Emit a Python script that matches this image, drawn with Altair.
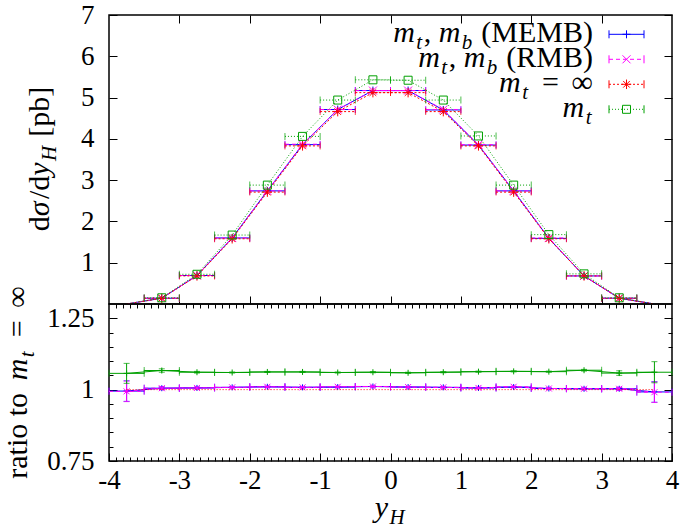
import altair as alt
import pandas as pd

# ---------------- data ----------------
y_H = [-3.75, -3.25, -2.75, -2.25, -1.75, -1.25, -0.75, -0.25,
       0.25, 0.75, 1.25, 1.75, 2.25, 2.75, 3.25, 3.75]
bin_width = 0.5

# upper panel: dsigma/dy_H [pb]
xsec_memb = [0.00, 0.14, 0.69, 1.60, 2.74, 3.86, 4.71, 5.17, 5.17, 4.70, 3.85, 2.74, 1.59, 0.68, 0.14, 0.00]
xsec_rmb  = [0.00, 0.14, 0.69, 1.60, 2.74, 3.87, 4.71, 5.17, 5.17, 4.71, 3.86, 2.74, 1.60, 0.68, 0.14, 0.00]
xsec_inf  = [0.00, 0.14, 0.68, 1.58, 2.71, 3.83, 4.66, 5.12, 5.12, 4.66, 3.83, 2.71, 1.58, 0.68, 0.14, 0.00]
xsec_mt   = [0.00, 0.15, 0.72, 1.67, 2.88, 4.06, 4.94, 5.43, 5.42, 4.94, 4.07, 2.88, 1.68, 0.73, 0.15, 0.00]

# lower panel: ratio to m_t = infinity
ratio_memb = [0.995, 1.005, 1.006, 1.008, 1.010, 1.008, 1.009, 1.011, 1.009, 1.008, 1.006, 1.009, 1.004, 1.003, 1.003, 0.992]
ratio_memb_err = [0.036, 0.005, 0.003, 0.002, 0.002, 0.002, 0.002, 0.002, 0.002, 0.002, 0.002, 0.002, 0.002, 0.003, 0.005, 0.036]
ratio_rmb = [0.994, 1.005, 1.006, 1.008, 1.010, 1.008, 1.010, 1.011, 1.009, 1.008, 1.006, 1.010, 1.004, 1.003, 1.003, 0.991]
ratio_rmb_err = [0.036, 0.005, 0.003, 0.002, 0.002, 0.002, 0.002, 0.002, 0.002, 0.002, 0.002, 0.002, 0.002, 0.003, 0.005, 0.036]
ratio_inf = [1.0, 1.0, 1.0, 1.0, 1.0, 1.0, 1.0, 1.0, 1.0, 1.0, 1.0, 1.0, 1.0, 1.0, 1.0, 1.0]
ratio_mt = [1.057, 1.067, 1.061, 1.060, 1.062, 1.062, 1.060, 1.061, 1.059, 1.061, 1.063, 1.064, 1.063, 1.068, 1.058, 1.061]
ratio_mt_err = [0.035, 0.006, 0.003, 0.002, 0.002, 0.002, 0.002, 0.002, 0.002, 0.002, 0.002, 0.002, 0.002, 0.003, 0.008, 0.037]

top_y_ticks = [1, 2, 3, 4, 5, 6, 7]
bot_y_ticks = [0.75, 1, 1.25]
bot_y_minor = [0.8, 0.85, 0.9, 0.95, 1.05, 1.1, 1.15, 1.2]
x_ticks = [-4, -3, -2, -1, 0, 1, 2, 3, 4]
x_minor = [round(-4 + 0.1 * i, 1) for i in range(81) if i % 10 != 0]

# ---------------- styling ----------------
FONT = "Liberation Serif, DejaVu Serif, serif"
FS = 30
LFS = 27
SUB = 0.7
W_PLOT, H_TOP, H_BOT = 563, 289, 157

BLUE, MAGENTA, RED, GREEN = "#0000ff", "#ff00ff", "#ff0000", "#00a000"
PLUS = "M-1,0L1,0M0,-1L0,1"
CROSS = "M-1,-1L1,1M-1,1L1,-1"
STAR = "M-1,0L1,0M0,-1L0,1M-0.7,-0.7L0.7,0.7M-0.7,0.7L0.7,-0.7"

XS = alt.Scale(domain=[-4, 4], nice=False, zero=False)
YS_TOP = alt.Scale(domain=[0, 7], nice=False, zero=False)
YS_BOT = alt.Scale(domain=[0.75, 1.3], nice=False, zero=False)

one = pd.DataFrame({"k": [0]})


def make_df(vals, errs=None):
    d = pd.DataFrame({"x": y_H, "v": vals})
    d["xlo"] = d["x"] - bin_width / 2
    d["xhi"] = d["x"] + bin_width / 2
    if errs is not None:
        d["lo"] = d["v"] - pd.Series(errs)
        d["hi"] = d["v"] + pd.Series(errs)
    return d


def X(f):
    return alt.X(f"{f}:Q", scale=XS, axis=None)


def Y(f, s):
    return alt.Y(f"{f}:Q", scale=s, axis=None)


def series(d, ys, color, dash, shape, msize, cap, line_df=None, xbar=True, ybar=False, marker=True):
    lk = dict(color=color, strokeWidth=1)
    if dash:
        lk["strokeDash"] = dash
    out = []
    ld = d if line_df is None else line_df
    out.append(alt.Chart(ld).mark_line(clip=True, **lk).encode(x=X("x"), y=Y("v", ys)))
    if xbar:
        out.append(alt.Chart(d).mark_rule(**lk).encode(x=X("xlo"), x2=alt.X2("xhi:Q"), y=Y("v", ys)))
        for f in ("xlo", "xhi"):
            out.append(alt.Chart(d).mark_tick(orient="vertical", size=cap, thickness=1, color=color)
                       .encode(x=X(f), y=Y("v", ys)))
    if ybar:
        out.append(alt.Chart(d).mark_rule(color=color, strokeWidth=1).encode(x=X("x"), y=Y("lo", ys), y2=alt.Y2("hi:Q")))
        for f in ("lo", "hi"):
            out.append(alt.Chart(d).mark_tick(orient="horizontal", size=6, thickness=1, color=color)
                       .encode(x=X("x"), y=Y(f, ys)))
    if marker:
        out.append(alt.Chart(d).mark_point(shape=shape, size=msize, color=color, filled=False,
                                           strokeWidth=1, opacity=1).encode(x=X("x"), y=Y("v", ys)))
    return out


def ax(orient, values, size, labels=False, pad=0):
    kw = dict(orient=orient, values=values, tickSize=size, offset=-size, domain=False, grid=False,
              ticks=True, tickColor="black", tickWidth=1, title=None, labels=labels)
    if labels:
        kw.update(labelFont=FONT, labelFontSize=LFS, labelColor="black", labelPadding=pad,
                  labelExpr="'' + datum.value", labelFlush=False, labelOverlap=False)
    return alt.Axis(**kw)


def axis_layer(d, ys, xaxis, yaxis):
    return alt.Chart(d).mark_point(opacity=0).encode(
        x=alt.X("x:Q", scale=XS, axis=xaxis),
        y=alt.Y("v:Q", scale=ys, axis=yaxis))


# Liberation Serif (Times metrics) advance widths, em; "_" is a math-sized gap
W_R = {' ': 0.25, '_': 0.42, '(': 0.333, ')': 0.333, '[': 0.333, ']': 0.333, ',': 0.25, '/': 0.278, '=': 0.564,
       '∞': 0.713, 'M': 0.889, 'E': 0.611, 'B': 0.667, 'R': 0.667, 'd': 0.5, 'p': 0.5, 'b': 0.5,
       'r': 0.333, 'a': 0.444, 't': 0.278, 'i': 0.278, 'o': 0.5}
W_I = {'m': 0.722, 't': 0.278, 'b': 0.5, 'y': 0.444, 'H': 0.722, 'σ': 0.52}
ITALIC_GAP = 1.5


def pw(t, k):
    tab = W_R if k == "r" else W_I
    size = FS * SUB if k == "s" else FS
    w = sum(tab.get(c, 0.5) for c in t) * size
    return w + (ITALIC_GAP if k in ("i", "s") else 0)


def rich(parts, x, y, anchor="left", angle=0):
    total = sum(pw(t, k) for t, k in parts)
    cum = {"left": 0, "center": -total / 2, "right": -total}[anchor]
    out = []
    for t, k in parts:
        if t.strip(" _"):
            kw = dict(align="left", baseline="alphabetic", font=FONT, color="black",
                      fontSize=FS * SUB if k == "s" else FS, dx=cum, dy=FS * 0.22 if k == "s" else 0)
            if k in ("i", "s"):
                kw["fontStyle"] = "italic"
            if angle:
                kw["angle"] = angle
            out.append(alt.Chart(one).mark_text(**kw).encode(
                x=alt.value(x), y=alt.value(y), text=alt.value(t)))
        cum += pw(t, k)
    return out


def legend_row(yc, color, dash, shape, msize, parts):
    lk = dict(color=color, strokeWidth=1)
    if dash:
        lk["strokeDash"] = dash
    out = [alt.Chart(one).mark_rule(**lk).encode(x=alt.value(500), x2=alt.value(535), y=alt.value(yc))]
    for xv in (500, 535):
        out.append(alt.Chart(one).mark_rule(color=color, strokeWidth=1).encode(
            x=alt.value(xv), y=alt.value(yc - 4), y2=alt.value(yc + 4)))
    out.append(alt.Chart(one).mark_point(shape=shape, size=msize, color=color, filled=False,
                                         strokeWidth=1, opacity=1).encode(x=alt.value(517.5), y=alt.value(yc)))
    out += rich(parts, 484, yc + 8, anchor="right")
    return out


# ---------------- upper panel ----------------
top_layers = []
for vals, color, dash, shape, ms in [(xsec_memb, BLUE, None, PLUS, 64),
                                     (xsec_rmb, MAGENTA, [4, 3], CROSS, 64),
                                     (xsec_inf, RED, [2, 2], STAR, 90),
                                     (xsec_mt, GREEN, [1, 2], "square", 64)]:
    full = make_df(vals)
    shown = full[full["x"].abs() < 3.5]
    top_layers += series(shown, YS_TOP, color, dash, shape, ms, 7, line_df=full)

d0 = make_df(xsec_inf)
top_layers.append(axis_layer(d0, YS_TOP, ax("bottom", x_ticks[1:-1], 8), ax("left", top_y_ticks, 8, True, 15)))
top_layers.append(axis_layer(d0, YS_TOP, ax("top", x_ticks[1:-1], 8), ax("right", top_y_ticks, 8)))

top_layers += legend_row(19.3, BLUE, None, PLUS, 64,
                         [("m", "i"), ("t", "s"), (",", "r"), (" ", "r"), ("m", "i"), ("b", "s"), (" ", "r"), ("(MEMB)", "r")])
top_layers += legend_row(44.3, MAGENTA, [4, 3], CROSS, 64,
                         [("m", "i"), ("t", "s"), (",", "r"), (" ", "r"), ("m", "i"), ("b", "s"), (" ", "r"), ("(RMB)", "r")])
top_layers += legend_row(69.3, RED, [2, 2], STAR, 90,
                         [("m", "i"), ("t", "s"), ("_", "r"), ("=", "r"), ("_", "r"), ("∞", "r")])
top_layers += legend_row(94.3, GREEN, [1, 2], "square", 64, [("m", "i"), ("t", "s")])

top_layers += rich([("d", "r"), ("σ", "i"), ("/", "r"), ("d", "r"), ("y", "i"), ("H", "s"), (" ", "r"), ("[pb]", "r")],
                   -60, 144, anchor="center", angle=270)

top = alt.layer(*top_layers).resolve_axis(x="independent", y="independent").properties(width=W_PLOT, height=H_TOP)

# ---------------- lower panel ----------------
bot_layers = []
bot_layers += series(make_df(ratio_memb, ratio_memb_err), YS_BOT, BLUE, None, PLUS, 36, 7, ybar=True)
bot_layers += series(make_df(ratio_rmb, ratio_rmb_err), YS_BOT, MAGENTA, [4, 3], CROSS, 36, 7, ybar=True)
bot_layers += series(make_df(ratio_inf), YS_BOT, RED, [1, 2], STAR, 36, 7, xbar=False, marker=False)
bot_layers += series(make_df(ratio_mt, ratio_mt_err), YS_BOT, GREEN, None, PLUS, 36, 7, ybar=True)

d1 = make_df(ratio_inf)
bot_layers.append(axis_layer(d1, YS_BOT, ax("bottom", x_ticks, 8, True, 6), ax("left", bot_y_ticks, 8, True, 15)))
bot_layers.append(axis_layer(d1, YS_BOT, ax("bottom", x_minor, 4), ax("left", bot_y_minor, 4)))
bot_layers.append(axis_layer(d1, YS_BOT, ax("top", x_minor, 4), ax("right", bot_y_ticks, 8)))
bot_layers.append(axis_layer(d1, YS_BOT, None, ax("right", bot_y_minor, 4)))

bot_layers += rich([("y", "i"), ("H", "s")], 281.5, 213, anchor="center")
bot_layers += rich([("ratio to", "r"), ("_", "r"), ("m", "i"), ("t", "s"), ("_", "r"), ("=", "r"), ("_", "r"), ("∞", "r")],
                   -82, 78.5, anchor="center", angle=270)

bottom = alt.layer(*bot_layers).resolve_axis(x="independent", y="independent").properties(width=W_PLOT, height=H_BOT)

chart = alt.vconcat(top, bottom, spacing=0, bounds="flush").properties(
    padding={"left": 2, "top": 0, "right": 4, "bottom": 4}, background="white"
).configure_view(stroke="black", strokeWidth=1.5)

chart.save("out.html", embed_options={"renderer": "svg", "actions": False})
